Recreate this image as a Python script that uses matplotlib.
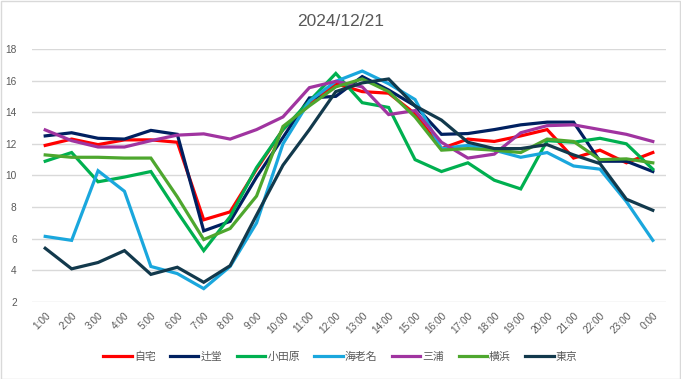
import matplotlib.pyplot as plt
from matplotlib.patches import Rectangle

plt.rcParams['font.family'] = ['Liberation Sans', 'Noto Sans CJK JP']

hours = ['1:00', '2:00', '3:00', '4:00', '5:00', '6:00', '7:00', '8:00', '9:00', '10:00',
         '11:00', '12:00', '13:00', '14:00', '15:00', '16:00', '17:00', '18:00', '19:00',
         '20:00', '21:00', '22:00', '23:00', '0:00']

jitaku = [11.9, 12.3, 11.95, 12.25, 12.25, 12.1, 7.2, 7.7, 10.4, 12.9, 14.5, 15.8,
          15.3, 15.2, 13.9, 11.7, 12.3, 12.15, 12.5, 12.9, 11.1, 11.6, 10.8, 11.45]
tsujido = [12.5, 12.7, 12.35, 12.3, 12.85, 12.6, 6.5, 7.1, 9.9, 12.4, 14.9, 15.0,
           16.25, 15.4, 14.4, 12.6, 12.65, 12.9, 13.2, 13.37, 13.37, 10.9, 10.9, 10.25]
odawara = [10.9, 11.45, 9.6, 9.9, 10.25, 7.7, 5.25, 7.4, 10.5, 12.9, 14.7, 16.45,
           14.6, 14.3, 11.0, 10.25, 10.8, 9.7, 9.15, 12.2, 12.1, 12.35, 12.0, 10.4]
ebina = [6.15, 5.9, 10.3, 9.0, 4.25, 3.8, 2.85, 4.25, 7.0, 12.0, 14.7, 15.95,
         16.6, 15.8, 14.8, 11.7, 11.9, 11.6, 11.15, 11.45, 10.6, 10.4, 8.35, 5.9]
miura = [12.88, 12.2, 11.8, 11.8, 12.2, 12.55, 12.63, 12.3, 12.9, 13.7, 15.55, 15.95,
         15.6, 13.85, 14.1, 12.1, 11.1, 11.35, 12.7, 13.15, 13.2, 12.9, 12.6, 12.15]
yokohama = [11.3, 11.15, 11.15, 11.1, 11.1, 8.65, 5.95, 6.65, 8.7, 13.1, 14.4, 15.6,
            16.1, 15.3, 13.7, 11.6, 11.7, 11.6, 11.45, 12.3, 12.15, 11.0, 11.05, 10.8]
tokyo = [5.4, 4.1, 4.5, 5.25, 3.75, 4.2, 3.25, 4.3, 7.5, 10.65, 12.9, 15.3,
         15.85, 16.1, 14.4, 13.5, 12.1, 11.7, 11.7, 11.95, 11.3, 10.75, 8.5, 7.8]

series = [
    ('自宅', jitaku, '#FF0000'),
    ('辻堂', tsujido, '#002060'),
    ('小田原', odawara, '#00B050'),
    ('海老名', ebina, '#1AA7DD'),
    ('三浦', miura, '#A034A0'),
    ('横浜', yokohama, '#4EA72E'),
    ('東京', tokyo, '#12394C'),
]

gray = '#595959'

fig = plt.figure(figsize=(6.81, 3.79), dpi=100)
ax = fig.add_axes([0.047, 0.203, 0.931, 0.668])

x = range(len(hours))
for name, vals, col in series:
    ax.plot(x, vals, color=col, lw=2.3, label=name, solid_joinstyle='miter')

ax.set_xlim(-0.5, len(hours) - 0.5)
ax.set_ylim(2, 18)
ax.set_yticks(range(2, 19, 2))
ax.set_xticks(list(x))
ax.set_xticklabels(hours, rotation=45, ha='right', rotation_mode='anchor')
ax.tick_params(length=0, colors=gray, labelsize=7.3)
ax.tick_params(axis='x', pad=6)
ax.tick_params(axis='y', pad=11)
ax.grid(axis='y', color='#D9D9D9', lw=1)
ax.set_axisbelow(True)
for s in ax.spines.values():
    s.set_visible(False)

fig.text(0.5, 0.942, '2024/12/21', ha='center', va='center', fontsize=12.5, color=gray)

fig.legend(loc='center', bbox_to_anchor=(0.5, 0.058), ncol=7, frameon=False,
           fontsize=7.8, handlelength=2.6, handletextpad=0.2, columnspacing=1.35,
           labelcolor=gray)

fig.patches.append(Rectangle((0.001, 0.001), 0.997, 0.997, transform=fig.transFigure,
                             fill=False, edgecolor='#D9D9D9', lw=1))

fig.savefig('out.png', dpi=100)
